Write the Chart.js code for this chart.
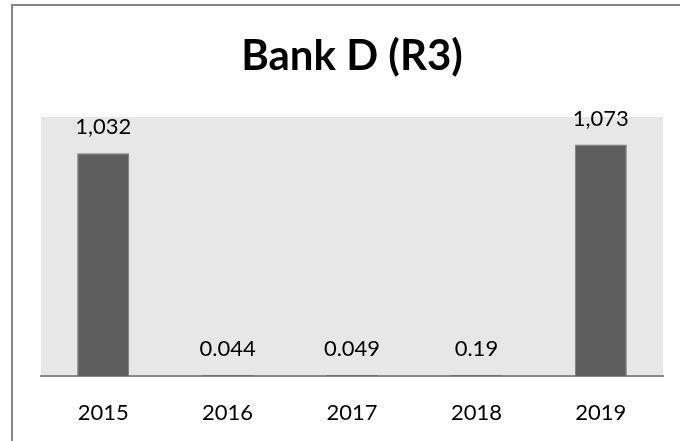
<!DOCTYPE html>
<html>
<head>
<meta charset="utf-8">
<script src="https://cdn.jsdelivr.net/npm/chart.js@4/dist/chart.umd.min.js"></script>
<style>
    html, body { margin: 0; padding: 0; background: #fff; overflow: hidden; }
    .frame {
        position: absolute;
        left: 11px;
        top: 4px;
        width: 700px;
        height: 480px;
        border: 2px solid #878787;
    }
    .frame canvas { position: absolute; left: 0; top: 0; }
</style>
</head>
<body>
<div class="frame">
    <canvas id="chart" width="667" height="460"></canvas>
</div>
<script>
// Chart data
const years = ['2015', '2016', '2017', '2018', '2019'];
const values = [1032, 0.044, 0.049, 0.19, 1073];
const valueLabels = ['1,032', '0.044', '0.049', '0.19', '1,073'];
const yMax = 1200;

// Grey plot area behind the bars
const plotBackground = {
    id: 'plotBackground',
    beforeDraw(chart) {
        const { ctx, chartArea } = chart;
        ctx.save();
        ctx.fillStyle = '#e7e7e7';
        ctx.fillRect(chartArea.left, chartArea.top, chartArea.right - chartArea.left, chartArea.bottom - chartArea.top);
        ctx.restore();
    }
};

// Value labels above each bar
const valueLabelPlugin = {
    id: 'valueLabels',
    afterDatasetsDraw(chart) {
        const { ctx } = chart;
        const meta = chart.getDatasetMeta(0);
        ctx.save();
        ctx.font = '22px Lato';
        ctx.fillStyle = '#000';
        ctx.textAlign = 'center';
        ctx.textBaseline = 'middle';
        meta.data.forEach((bar, i) => {
            ctx.fillText(valueLabels[i], bar.x, bar.y - 26);
        });
        ctx.restore();
    }
};

new Chart(document.getElementById('chart'), {
    type: 'bar',
    data: {
        labels: years,
        datasets: [{
            data: values,
            backgroundColor: '#5e5e5e',
            borderColor: '#787878',
            borderWidth: 1,
            minBarLength: 1,
            categoryPercentage: 1,
            barPercentage: 0.418
        }]
    },
    options: {
        responsive: false,
        animation: false,
        layout: {
            padding: { left: 28, right: 17, top: 0, bottom: 15.6 }
        },
        plugins: {
            legend: { display: false },
            tooltip: { enabled: false },
            title: {
                display: true,
                text: 'Bank D (R3)',
                color: '#000',
                font: { family: 'Lato', size: 42, weight: 'bold', lineHeight: 1.2 },
                padding: { top: 25.3, bottom: 35.3 }
            }
        },
        scales: {
            x: {
                grid: { display: false, drawTicks: false },
                border: { display: true, color: '#898989', width: 2 },
                ticks: {
                    color: '#000',
                    padding: 24,
                    font: { family: 'Lato', size: 22 }
                }
            },
            y: {
                display: false,
                min: 0,
                max: yMax
            }
        }
    },
    plugins: [plotBackground, valueLabelPlugin]
});
</script>
</body>
</html>
